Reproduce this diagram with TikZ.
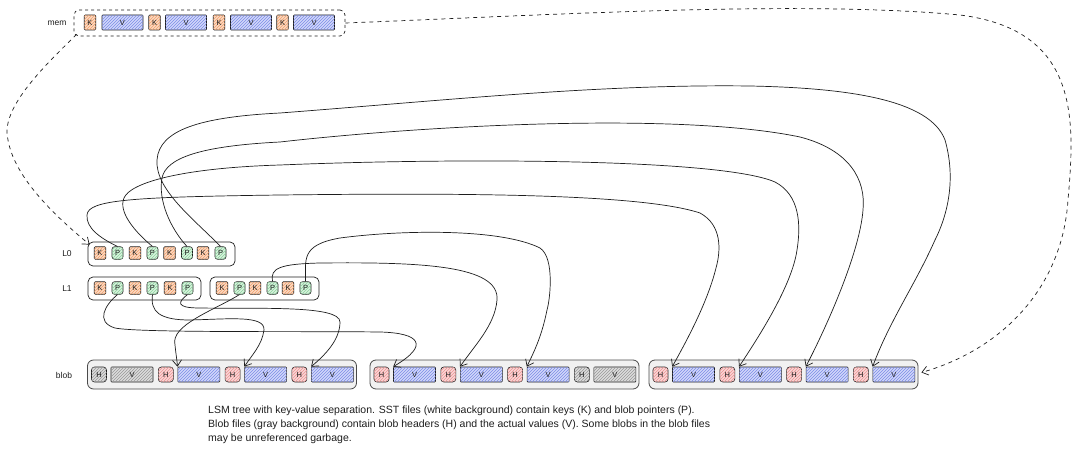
\documentclass[tikz,border=0pt]{standalone}
\usepackage{fontspec}
\setmainfont{Liberation Sans}
\usetikzlibrary{patterns,arrows.meta,calc}
\definecolor{ink}{HTML}{1E1E1E}
\definecolor{kfill}{HTML}{FBD9C3}
\definecolor{kline}{HTML}{F2A06A}
\definecolor{pfill}{HTML}{D8F3DD}
\definecolor{pline}{HTML}{8CD29E}
\definecolor{vfill}{HTML}{D2D8FA}
\definecolor{vline}{HTML}{7C8CE6}
\definecolor{hfill}{HTML}{FAD6D6}
\definecolor{hline}{HTML}{EC9494}
\definecolor{gfill}{HTML}{DCDCDC}
\definecolor{gline}{HTML}{989898}
\definecolor{blobbg}{HTML}{F1F1F1}
\definecolor{blobedge}{HTML}{4A4A4A}
\begin{document}
\begin{tikzpicture}[x=1pt,y=-1pt,
  elem/.style={draw=ink, line width=0.6pt, inner sep=0pt, text=ink, font=\fontsize{7.5}{8}\selectfont},
  kb/.style={elem, minimum width=11.5pt, minimum height=12.5pt, rounded corners=1pt, fill=kfill, postaction={pattern=north east lines, pattern color=kline}},
  pb/.style={elem, minimum width=11pt, minimum height=12.5pt, rounded corners=2.5pt, fill=pfill, postaction={pattern=north east lines, pattern color=pline}},
  vb/.style={elem, minimum width=42pt, minimum height=15pt, rounded corners=0.8pt, fill=vfill, postaction={pattern=north east lines, pattern color=vline}},
  hb/.style={elem, minimum width=15pt, minimum height=15pt, rounded corners=3pt, fill=hfill, postaction={pattern=north east lines, pattern color=hline}},
  ghb/.style={elem, minimum width=15pt, minimum height=15pt, rounded corners=3pt, fill=gfill, postaction={pattern=north east lines, pattern color=gline}},
  gvb/.style={elem, minimum width=42pt, minimum height=15pt, rounded corners=0.8pt, fill=gfill, postaction={pattern=north east lines, pattern color=gline}},
  cont/.style={draw=ink, line width=0.7pt, rounded corners=5pt, fill=white, inner sep=0pt},
  blobbox/.style={draw=blobedge, line width=0.8pt, rounded corners=6pt, fill=blobbg, inner sep=0pt, minimum width=269pt, minimum height=29pt},
  lab/.style={font=\fontsize{8.5}{9}\selectfont, text=ink},
  conn/.style={draw=ink, line width=0.7pt, -{Straight Barb[length=6pt,width=9pt]}},
  dconn/.style={conn, dash pattern=on 4pt off 4pt}
]
\useasboundingbox (0,0) rectangle (1080,452);
\fill[white] (0,0) rectangle (1080,452);

% labels
\node[lab] (lmem) at (57,23) {mem};
\node[lab] (ll0) at (67,254) {L0};
\node[lab] (ll1) at (67,289) {L1};
\node[lab] (lblob) at (64,375) {blob};

% memtable
\node[cont, dashed, minimum width=271pt, minimum height=26pt] (memBox) at (209.5,23) {};
\foreach \i/\kx/\vx in {1/90/122.5, 2/154.5/186, 3/219/251, 4/282.5/314} {
  \node[kb, minimum height=15pt] (mk\i) at (\kx,22.5) {K};
  \node[vb, minimum width=41pt] (mv\i) at (\vx,22.5) {V};
}

% L0
\node[cont, minimum width=147pt, minimum height=24pt] (l0Box) at (161.5,254) {};
\foreach \i/\kx in {1/100, 2/135, 3/169.5, 4/203} {
  \node[kb] (l0k\i) at (\kx,253) {K};
  \node[pb] (l0p\i) at ({\kx+17.5},253) {P};
}

% L1
\node[cont, minimum width=113pt, minimum height=23pt] (l1aBox) at (144.5,288.5) {};
\node[cont, minimum width=109pt, minimum height=23pt] (l1bBox) at (264.5,288.5) {};
\foreach \i/\kx in {1/100, 2/135, 3/170} {
  \node[kb] (l1ak\i) at (\kx,288) {K};
  \node[pb] (l1ap\i) at ({\kx+17.5},288) {P};
}
\foreach \i/\kx in {1/222, 2/255, 3/288} {
  \node[kb] (l1bk\i) at (\kx,288) {K};
  \node[pb] (l1bp\i) at ({\kx+17.5},288) {P};
}

% blob files
\foreach \nf/\bx/\g in {1/87.5/1, 2/370/4, 3/649/0} {
  \node[blobbox] (b\nf Box) at ({\bx+134.5},374.5) {};
  \foreach \k in {1,...,4} {
    \ifnum\k=\g
      \node[ghb] (b\nf h\k) at ({\bx+11.5+(\k-1)*66.8},374.5) {H};
      \node[gvb] (b\nf v\k) at ({\bx+44.5+(\k-1)*66.8},374.5) {V};
    \else
      \node[hb] (b\nf h\k) at ({\bx+11.5+(\k-1)*66.8},374.5) {H};
      \node[vb] (b\nf v\k) at ({\bx+44.5+(\k-1)*66.8},374.5) {V};
    \fi
  }
}

% caption
\node[anchor=north west, align=left, inner sep=0pt, text=ink, font=\fontsize{10.5}{14}\selectfont] (cap) at (208,406)
  {LSM tree with key-value separation. SST files (white background) contain keys (K) and blob pointers (P).\\
   Blob files (gray background) contain blob headers (H) and the actual values (V). Some blobs in the blob files\\
   may be unreferenced garbage.};

% L0 pointers -> blob file 3
\draw[conn] (l0p1.north) .. controls (100,238) and (86,228) .. (87,215)
  .. controls (88,200) and (130,197) .. (280,195)
  .. controls (450,193) and (640,193) .. (700,213)
  .. controls (722,225) and (721,250) .. (716,268)
  .. controls (708,300) and (690,335) .. (b3v1.north west);
\draw[conn] (l0p2.north) .. controls (135,232) and (118,212) .. (124,198)
  .. controls (130,183) and (180,168) .. (280,165)
  .. controls (450,158) and (720,158) .. (775,182)
  .. controls (800,195) and (801,225) .. (797,250)
  .. controls (792,285) and (760,335) .. (b3v2.north west);
\draw[conn] (l0p3.north) .. controls (170,228) and (158,200) .. (162,178)
  .. controls (166,158) and (200,146) .. (280,142)
  .. controls (430,125) and (680,112) .. (800,137)
  .. controls (850,150) and (866,180) .. (863,210)
  .. controls (860,250) and (830,320) .. (b3v3.north west);
\draw[conn] (l0p4.north) .. controls (195,220) and (155,190) .. (157,160)
  .. controls (159,130) and (200,117) .. (280,113)
  .. controls (450,100) and (600,84) .. (750,86)
  .. controls (850,88) and (930,100) .. (945,140)
  .. controls (955,175) and (950,210) .. (935,240)
  .. controls (915,285) and (890,320) .. (b3v4.north west);

% L1 pointers -> blob files 1 and 2
\draw[conn] (l1ap1.south) .. controls (105,305) and (95,322) .. (115,328)
  .. controls (140,333) and (300,331) .. (380,332)
  .. controls (420,333) and (430,345) .. (b2v1.north west);
\draw[conn] (l1ap2.south) .. controls (150,312) and (160,320) .. (190,320)
  .. controls (230,319) and (265,315) .. (264,330)
  .. controls (262,345) and (252,355) .. (b1v3.north west);
\draw[conn] (l1ap3.south) .. controls (178,302) and (175,308) .. (200,308)
  .. controls (260,309) and (340,305) .. (340,322)
  .. controls (340,340) and (325,355) .. (b1v4.north west);
\draw[conn] (l1bp1.south) .. controls (215,310) and (170,325) .. (175,345)
  .. controls (176,355) and (177,360) .. (b1v2.north west);
\draw[conn] (l1bp2.north) .. controls (270,268) and (280,264) .. (320,263)
  .. controls (420,262) and (500,265) .. (497,300)
  .. controls (495,325) and (475,345) .. (b2v2.north west);
\draw[conn] (l1bp3.north) .. controls (306,260) and (300,245) .. (340,238)
  .. controls (400,230) and (500,228) .. (540,248)
  .. controls (555,258) and (550,300) .. (547,310)
  .. controls (542,335) and (535,350) .. (b2v3.north west);

% memtable flush (dashed)
\draw[dconn] ($(memBox.south west)+(3,-2)$) .. controls (40,70) and (0,110) .. (8,140)
  .. controls (15,180) and (60,220) .. ($(l0Box.north west)+(2,3)$);
\draw[dconn] (memBox.east) .. controls (550,15) and (800,0) .. (960,15)
  .. controls (1080,30) and (1075,120) .. (1068,200)
  .. controls (1062,290) and (1000,350) .. ($(b3Box.east)+(3,-2)$);
\end{tikzpicture}
\end{document}
